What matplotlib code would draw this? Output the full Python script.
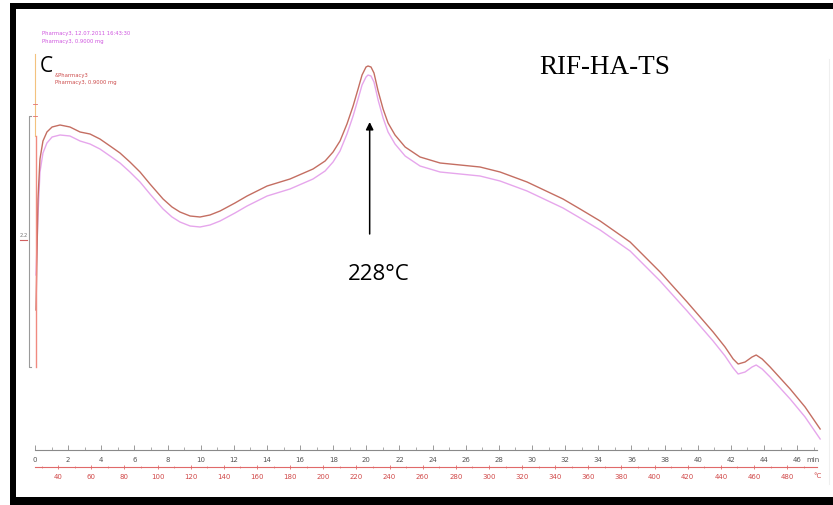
import matplotlib
matplotlib.use("Agg")
import matplotlib.pyplot as plt
from matplotlib.patches import Rectangle
from matplotlib.lines import Line2D
import numpy as np

# DSC run, time in min, heat flow in arbitrary units
tempo = [0.06, 0.18, 0.30, 0.48, 0.72, 1.03, 1.51, 2.11, 2.72, 3.32,
         3.92, 4.53, 5.13, 5.73, 6.34, 6.94, 7.73, 8.27, 8.75, 9.36,
         9.96, 10.56, 11.17, 12.07, 12.80, 14.01, 15.39, 16.78, 17.51, 17.99,
         18.41, 18.83, 19.20, 19.50, 19.74, 19.98, 20.10, 20.28, 20.46, 20.71,
         21.01, 21.31, 21.73, 22.34, 23.24, 24.45, 25.66, 26.86, 28.07, 29.70,
         31.87, 32.90, 34.11, 35.92, 37.73, 39.36, 40.93, 41.65, 42.14, 42.44,
         42.86, 43.28, 43.53, 43.89, 44.37, 45.58, 46.48, 47.39]

fluxo_a = [1.40, 2.51, 2.91, 3.09, 3.18, 3.23, 3.25, 3.23, 3.18, 3.16,
           3.11, 3.04, 2.97, 2.88, 2.78, 2.66, 2.51, 2.43, 2.38, 2.34,
           2.33, 2.35, 2.39, 2.47, 2.54, 2.64, 2.71, 2.81, 2.89, 2.98,
           3.09, 3.26, 3.44, 3.61, 3.75, 3.83, 3.84, 3.83, 3.77, 3.59,
           3.41, 3.27, 3.15, 3.03, 2.93, 2.87, 2.85, 2.83, 2.78, 2.68,
           2.51, 2.41, 2.29, 2.08, 1.78, 1.48, 1.18, 1.03, 0.91, 0.86,
           0.88, 0.93, 0.95, 0.91, 0.83, 0.61, 0.43, 0.21]

fluxo_b = [1.75, 2.35, 2.78, 2.97, 3.07, 3.13, 3.15, 3.14, 3.09, 3.06,
           3.01, 2.94, 2.87, 2.78, 2.68, 2.56, 2.41, 2.33, 2.28, 2.24,
           2.23, 2.25, 2.29, 2.37, 2.44, 2.54, 2.61, 2.71, 2.79, 2.88,
           2.99, 3.16, 3.34, 3.51, 3.65, 3.73, 3.75, 3.74, 3.68, 3.50,
           3.32, 3.18, 3.06, 2.94, 2.84, 2.78, 2.76, 2.74, 2.69, 2.59,
           2.42, 2.32, 2.20, 1.99, 1.69, 1.39, 1.09, 0.94, 0.82, 0.76,
           0.78, 0.83, 0.85, 0.81, 0.73, 0.51, 0.33, 0.11]

T0 = 26.0      # temperatura inicial (C)
TAXA = 10.0    # taxa de aquecimento (C/min)
T_PICO = 228   # pico indicado

W, H = 833, 506


def px(x, y):
    # pixel -> fração da figura
    return x / W, 1 - y / H


fig = plt.figure(figsize=(W / 100, H / 100), dpi=100)

# eixo principal: base em y=451 px, t=0 em x=35 px
x0, y0 = px(35, 451)
x1, y1 = px(817, 20)
ax = fig.add_axes([x0, y0, x1 - x0, y1 - y0])
ax.set_xlim(0, 47.2)
ax.set_ylim(0, 4.31)

ax.plot(tempo, fluxo_b, color='#e6a6ec', lw=1.0, clip_on=False,
        solid_joinstyle='round')
ax.plot(tempo, fluxo_a, color='#c46e62', lw=1.0, clip_on=False,
        solid_joinstyle='round')

for s in ['left', 'right', 'top']:
    ax.spines[s].set_visible(False)
ax.spines['bottom'].set_color('#8a8a8a')
ax.spines['bottom'].set_linewidth(0.8)
ax.set_yticks([])
ax.set_xticks(np.arange(0, 47, 2))
ax.set_xticks(np.arange(0, 48, 1), minor=True)
ax.tick_params(axis='x', which='both', direction='in', colors='#8a8a8a',
               labelcolor='#555555', labelsize=5, pad=4)
ax.tick_params(axis='x', which='major', length=3.5, width=0.6)
ax.tick_params(axis='x', which='minor', length=2, width=0.5)

# escala de temperatura
sec = ax.secondary_xaxis(-(468 - 451) / 431,
                         functions=(lambda t: T0 + TAXA * t,
                                    lambda T: (T - T0) / TAXA))
sec.spines['bottom'].set_color('#e06a6a')
sec.spines['bottom'].set_linewidth(0.8)
sec.set_xticks(np.arange(40, 481, 20))
sec.set_xticks(np.arange(30, 491, 10), minor=True)
sec.tick_params(axis='x', which='both', direction='inout', colors='#e06a6a',
                labelcolor='#d04848', labelsize=5, pad=2.5)
sec.tick_params(axis='x', which='major', length=3, width=0.6)
sec.tick_params(axis='x', which='minor', length=2, width=0.5)

fig.text(*px(813, 460), 'min', fontsize=5, color='#555555', ha='center', va='center')
fig.text(*px(818, 476), '°C', fontsize=5, color='#d04848', ha='center', va='center')

# seta do pico
t_pico = (T_PICO - T0) / TAXA
ax.annotate('', xy=(t_pico, 3.28), xytext=(t_pico, 2.16),
            arrowprops=dict(arrowstyle='-|>', color='black', lw=1.1,
                            mutation_scale=11, shrinkA=0, shrinkB=0))
ax.text(t_pico + 0.55, 1.76, '%d°C' % T_PICO, fontsize=16, family='Open Sans',
        ha='center', va='center')

fig.text(*px(605, 68), 'RIF-HA-TS', fontsize=19.5, family='Liberation Serif',
         ha='center', va='center')
fig.text(*px(40, 72), 'C', fontsize=15, family='Open Sans', va='baseline')

# cabeçalhos do instrumento
fig.text(*px(42, 34), 'Pharmacy3, 12.07.2011 16:43:30', fontsize=3.8,
         color='#cf55df', va='center')
fig.text(*px(42, 42), 'Pharmacy3, 0.9000 mg', fontsize=3.8,
         color='#cf55df', va='center')
fig.text(*px(55, 76), '&Pharmacy3', fontsize=3.8, color='#cc4a4a', va='center')
fig.text(*px(55, 83), 'Pharmacy3, 0.9000 mg', fontsize=3.8,
         color='#cc4a4a', va='center')


def linha(xs, ys, **kw):
    fx = [x / W for x in xs]
    fy = [1 - y / H for y in ys]
    fig.add_artist(Line2D(fx, fy, transform=fig.transFigure, **kw))


# barra de escala e eixo vertical à esquerda
linha([31, 29, 29, 31], [117, 117, 368, 368], color='#9a9a9a', lw=0.8)
linha([35, 35], [55, 137], color='#f3c27e', lw=0.8)
linha([35.5, 35.5], [137, 368], color='#f08a80', lw=1.0)
linha([33, 37], [105, 105], color='#e07070', lw=0.6)
linha([33, 37], [117, 117], color='#e07070', lw=0.6)
fig.text(*px(24, 236), '2.2', fontsize=3.8, color='#777777', ha='center', va='center')
linha([20, 27], [241, 241], color='#d06060', lw=0.8)
linha([829, 829], [60, 485], color='#efefef', lw=0.8)

# moldura
for (x, y, w, h) in [(10, 4, 6, 502), (10, 4, 823, 6), (10, 498, 823, 8)]:
    fig.add_artist(Rectangle((x / W, 1 - (y + h) / H), w / W, h / H,
                             transform=fig.transFigure, color='black', lw=0))

fig.savefig('out.png', dpi=100)
